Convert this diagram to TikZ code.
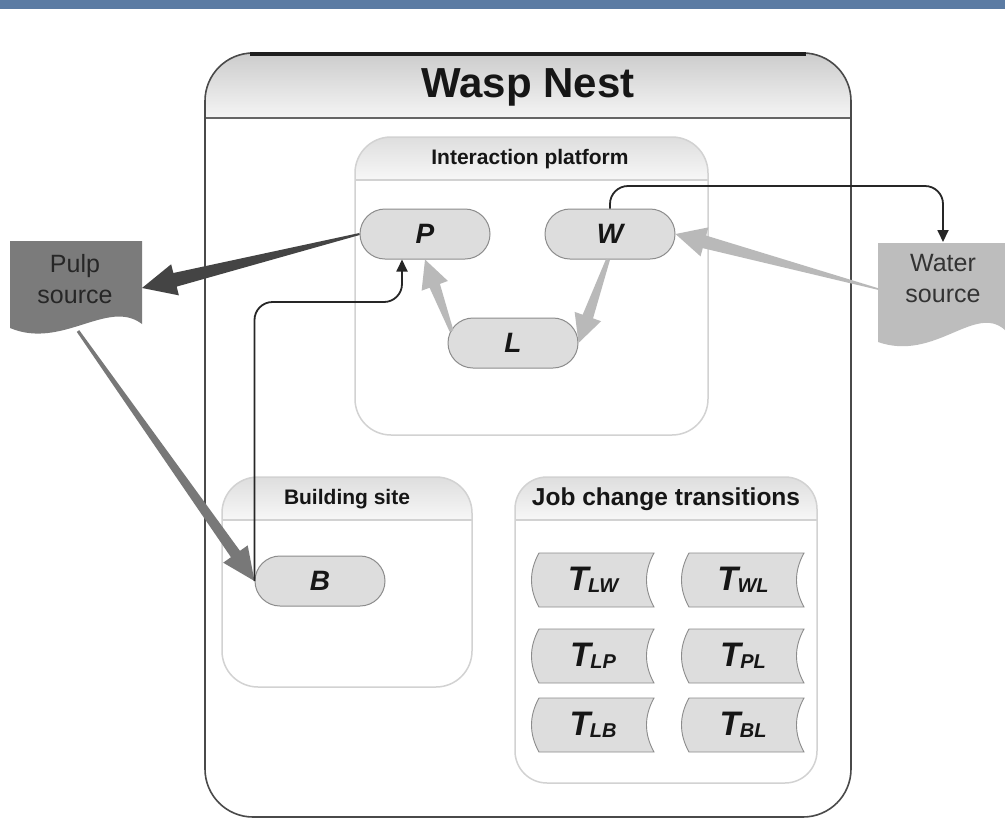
\documentclass[tikz,border=0pt]{standalone}
\usepackage{fontspec}
\setmainfont{Liberation Sans}
\usetikzlibrary{calc,arrows.meta}

\definecolor{band}{HTML}{5B7BA3}
\definecolor{outerline}{HTML}{4A4A4A}
\definecolor{panelline}{HTML}{D2D2D2}
\definecolor{pillfill}{HTML}{DDDDDD}
\definecolor{pillline}{HTML}{8C8C8C}
\definecolor{pulpfill}{HTML}{7B7B7B}
\definecolor{waterfill}{HTML}{BDBDBD}
\definecolor{darkflow}{HTML}{444444}
\definecolor{midflow}{HTML}{787878}
\definecolor{lightflow}{HTML}{B9B9B9}
\definecolor{ink}{HTML}{161616}

% tapered flow arrow: colour, from, to, start half-width, shaft end half-width, head half-width, head length
\newcommand\taper[7]{%
  \fill[#1] let \p1=(#2), \p2=(#3),
    \n1={atan2(\y2-\y1,\x2-\x1)}, \n2={veclen(\x2-\x1,\y2-\y1)} in
    [shift={(\p1)}, rotate=\n1]
    (0,-#4) -- (\n2-#7,-#5) -- (\n2-#7,-#6) -- (\n2,0)
    -- (\n2-#7,#6) -- (\n2-#7,#5) -- (0,#4) -- cycle;}

% compartment with a shaded title band: x0, y0, x1, y1, band bottom, corner radius
\newcommand\panel[6]{%
  \begin{scope}
    \clip[rounded corners=#6pt] (#1,#2) rectangle (#3,#4);
    \fill[top color=black!13, bottom color=black!3] (#1,#2) rectangle (#3,#5);
  \end{scope}
  \draw[panelline, line width=1.3pt] (#1,#5) -- (#3,#5);
  \draw[panelline, line width=1.5pt, rounded corners=#6pt] (#1,#2) rectangle (#3,#4);}

% job change transition box: name, centre x, centre y, label
\newcommand\jobbox[4]{%
  \filldraw[fill=pillfill, draw=pillline, line width=0.9pt]
    (#2-54,#3-27) -- (#2+61,#3-27)
    .. controls (#2+51,#3-9) and (#2+51,#3+9) .. (#2+61,#3+27)
    -- (#2-54,#3+27)
    .. controls (#2-64,#3+9) and (#2-64,#3-9) .. (#2-54,#3-27) -- cycle;
  \node[jobtext] (#1) at (#2,#3) {#4};}

\newcommand\tsub[1]{T\kern-0.5pt\raisebox{-2pt}{\fontsize{20}{20}\selectfont #1}}

\tikzset{
  pill/.style={draw=pillline, fill=pillfill, line width=1pt,
    rounded corners=25pt, minimum width=130pt, minimum height=50pt,
    inner sep=0pt, text=ink,
    font=\fontsize{28}{28}\selectfont\bfseries\itshape},
  jobtext/.style={text=ink, inner sep=0pt,
    font=\fontsize{34}{34}\selectfont\bfseries\itshape},
  paneltitle/.style={text=ink, inner sep=0pt, font=\bfseries},
  srctext/.style={align=center, inner sep=0pt,
    font=\fontsize{25}{31}\selectfont},
  link/.style={draw=black!85, line width=1.8pt, rounded corners=18pt,
    -{Triangle[length=12pt,width=11pt]}},
}

\begin{document}
\begin{tikzpicture}[x=1pt,y=-1pt]
\useasboundingbox (0,0) rectangle (1005,820);
\fill[white] (0,0) rectangle (1005,820);
\fill[band] (0,0) rectangle (1005,9);

% Wasp nest enclosure
\begin{scope}
  \clip[rounded corners=48pt] (205,53) rectangle (851,817);
  \fill[top color=black!20, bottom color=black!4] (205,53) rectangle (851,118);
\end{scope}
\draw[black!60, line width=2.2pt] (205,118) -- (851,118);
\draw[outerline, line width=1.6pt, rounded corners=48pt] (205,53) rectangle (851,817);
\draw[black!88, line width=3.5pt] (250,54) -- (806,54);
\node[paneltitle, font=\fontsize{42}{42}\selectfont\bfseries] (nest) at (528,87) {Wasp Nest};

% compartments
\panel{355}{137}{708}{435}{180}{36}
\node[paneltitle, font=\fontsize{21}{21}\selectfont\bfseries] (iptitle) at (530,159) {Interaction platform};
\panel{222}{477}{472}{687}{520}{36}
\node[paneltitle, font=\fontsize{21}{21}\selectfont\bfseries] (bstitle) at (347,499) {Building site};
\panel{515}{477}{817}{783}{520}{32}
\node[paneltitle, font=\fontsize{24.5}{24.5}\selectfont\bfseries] (jctitle) at (666,499) {Job change transitions};

% task pools
\node[pill] (P) at (425,234) {P};
\node[pill] (W) at (610,234) {W};
\node[pill] (L) at (513,343) {L};
\node[pill] (B) at (320,581) {B};

% job change transitions
\jobbox{tlw}{593}{580}{\tsub{LW}}
\jobbox{twl}{743}{580}{\tsub{WL}}
\jobbox{tlp}{593}{656}{\tsub{LP}}
\jobbox{tpl}{743}{656}{\tsub{PL}}
\jobbox{tlb}{593}{725}{\tsub{LB}}
\jobbox{tbl}{743}{725}{\tsub{BL}}

% external sources
\fill[pulpfill] (10,241) -- (142,241) -- (142,324)
  .. controls (108,298) and (62,350) .. (10,328) -- cycle;
\node[srctext, text=black!85] (pulp) at (75,279) {Pulp\\source};
\fill[waterfill] (878,243) -- (1005,243) -- (1005,330)
  .. controls (975,303) and (935,362) .. (878,342) -- cycle;
\node[srctext, text=black!80] (water) at (943,279) {Water\\source};

\coordinate (pulpE) at (142,288);
\coordinate (pulpS) at (78,331);
\coordinate (waterW) at (878,289);
\coordinate (waterN) at (943,242);

% material flows
\taper{darkflow}{P.west}{pulpE}{1}{7}{16}{34}
\taper{midflow}{pulpS}{B.west}{1.5}{5.5}{15}{33}
\taper{lightflow}{waterW}{W.east}{0.8}{6.5}{15}{30}
\taper{lightflow}{$(W.south)+(-2,0)$}{L.east}{2}{5.5}{14}{28}
\taper{lightflow}{$(L.west)+(4,-12)$}{P.south}{2}{5.5}{14}{28}

% information links
\coordinate (bp) at (402,302);
\draw[link] (B.west) |- (bp) -- (bp |- P.south);
\coordinate (wv) at (943,186);
\draw[link] (W.north) |- (wv) -- (waterN);
\end{tikzpicture}
\end{document}
